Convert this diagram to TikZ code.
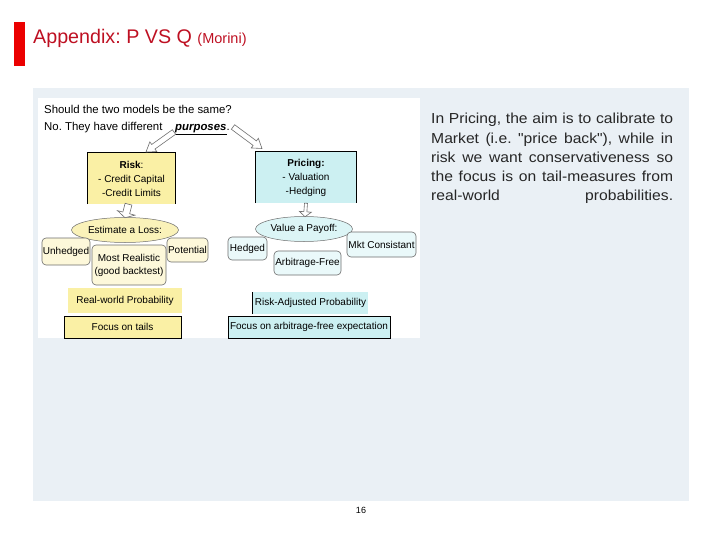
\documentclass[tikz,border=0pt]{standalone}
\usepackage{fontspec}
\setmainfont{Liberation Sans}
\newfontfamily\bodyfont{Liberation Sans}
\usetikzlibrary{calc,shapes.geometric}
\frenchspacing
\definecolor{titlered}{RGB}{190,16,34}
\definecolor{barred}{RGB}{235,0,0}
\definecolor{panel}{RGB}{234,240,245}
\definecolor{ryellow}{RGB}{250,240,165}
\definecolor{lyellow}{RGB}{253,248,218}
\definecolor{oyellow}{RGB}{250,242,185}
\definecolor{pcyan}{RGB}{204,240,242}
\definecolor{lcyan}{RGB}{234,249,250}
\definecolor{ocyan}{RGB}{220,245,246}
\definecolor{bgray}{RGB}{110,110,110}
\newcommand\blockarrow[5]{%
  \coordinate (bah) at ($(#2)!#5!(#1)$);
  \filldraw[blockarr] ($(#1)!#3!90:(#2)$) -- ($(bah)!#3!90:(#2)$) -- ($(bah)!#4!90:(#2)$) -- (#2)
    -- ($(bah)!#4!-90:(#2)$) -- ($(bah)!#3!-90:(#2)$) -- ($(#1)!#3!-90:(#2)$) -- cycle;}
\newcommand\bodyline[1]{\scalebox{1.08}[1]{\makebox[224pt][s]{#1}}}
\tikzset{
  qtxt/.style={anchor=base west, inner sep=0, font=\fontsize{11.4}{13}\selectfont},
  headbox/.style={inner sep=0, align=center, font=\fontsize{10}{14}\selectfont},
  oval/.style={ellipse, draw=bgray, line width=0.5pt, inner sep=0, font=\fontsize{10}{12}\selectfont},
  pill/.style={rounded corners=4pt, draw=bgray, line width=0.6pt, inner sep=0, align=center, font=\fontsize{10}{13}\selectfont},
  probbox/.style={inner sep=0, font=\fontsize{10}{12}\selectfont},
  focusbox/.style={draw=black, line width=0.8pt, inner sep=0, font=\fontsize{10}{12}\selectfont},
  blockarr/.style={draw=bgray, fill=white, line width=0.6pt, line join=miter},
  bodytxt/.style={anchor=base west, inner sep=0, font=\bodyfont\fontsize{14.5}{18}\selectfont, text=black!85}
}
\begin{document}
\begin{tikzpicture}[x=1pt,y=-1pt]
\useasboundingbox (0,0) rectangle (720,540);
% title
\fill[barred] (14,22) rectangle (25,66);
\node[anchor=base west, inner sep=0, text=titlered, font=\fontsize{19.7}{22}\selectfont] (title) at (33,43.5)
  {Appendix: P VS Q \fontsize{14.5}{16}\selectfont(Morini)};
% panel
\fill[panel] (33,88) rectangle (689,501);
\fill[white] (38,98) rectangle (420,338);
% questions
\node[qtxt] (q1) at (44,114) {Should the two models be the same?};
\node[qtxt] (q2) at (44,130.5) {No. They have different};
\node[qtxt] (purp) at (175,130.5) {\underline{\textbf{\textit{purposes}}}.};
% head boxes
\node[headbox, fill=ryellow, minimum width=87pt, minimum height=51pt] (risk) at (131.5,178.5)
  {\textbf{Risk}:\\- Credit Capital\\-Credit Limits};
\draw[black, line width=0.8pt] (risk.south west) -- (risk.north west) -- (risk.north east) -- (risk.south east);
\node[headbox, fill=pcyan, minimum width=100pt, minimum height=51pt] (pricing) at (306,177.5)
  {\textbf{Pricing:}\\- Valuation\\-Hedging};
\draw[black, line width=0.8pt] (pricing.south west) -- (pricing.north west) -- (pricing.north east) -- (pricing.south east);
% ellipses
\node[oval, fill=oyellow, minimum width=107pt, minimum height=25pt] (est) at (125,230) {Estimate a Loss:};
\node[oval, fill=ocyan, minimum width=97pt, minimum height=25pt] (val) at (304,229) {Value a Payoff:};
% pills left
\node[pill, fill=lyellow, minimum width=48pt, minimum height=27pt] (unh) at (66,251.5) {Unhedged};
\node[pill, fill=lyellow, minimum width=74pt, minimum height=40pt] (most) at (129,265) {Most Realistic\\(good backtest)};
\node[pill, fill=lyellow, minimum width=41pt, minimum height=24pt] (pot) at (187.5,250) {Potential};
% pills right
\node[pill, fill=lcyan, minimum width=39pt, minimum height=23pt] (hed) at (247.5,248.5) {Hedged};
\node[pill, fill=lcyan, minimum width=67pt, minimum height=24pt] (arb) at (307.5,263) {Arbitrage-Free};
\node[pill, fill=lcyan, minimum width=69pt, minimum height=25pt] (mkt) at (381.5,244.5) {Mkt Consistant};
% probability boxes
\node[probbox, fill=ryellow, minimum width=114pt, minimum height=25pt] (rw) at (125,300.5) {Real-world Probability};
\node[focusbox, fill=ryellow, minimum width=117pt, minimum height=22pt] (tails) at (122.5,327) {Focus on tails};
\node[probbox, fill=pcyan, minimum width=115pt, minimum height=22pt] (radj) at (310.5,303) {Risk-Adjusted Probability};
\draw[black, line width=0.8pt] (radj.south west) -- (radj.north west);
\node[focusbox, fill=pcyan, minimum width=162pt, minimum height=22pt] (farb) at (309,327) {Focus on arbitrage-free expectation};
% block arrows
\coordinate (a1s) at (174,132);
\coordinate (a1e) at (146,152);
\blockarrow{a1s}{a1e}{2.8pt}{6pt}{9pt}
\coordinate (a2s) at (233,127);
\coordinate (a2e) at (262,148.5);
\blockarrow{a2s}{a2e}{2.8pt}{6pt}{9pt}
\coordinate (a3s) at ($(risk.south)+(-3,0)$);
\coordinate (a3e) at ($(est.north)+(0,0.5)$);
\blockarrow{a3s}{a3e}{3.5pt}{9pt}{5pt}
\coordinate (a4s) at (pricing.south);
\coordinate (a4e) at ($(val.north)+(1,0.5)$);
\blockarrow{a4s}{a4e}{1.5pt}{6pt}{5pt}
% body text
\node[bodytxt] (l1) at (431,124) {\bodyline{In Pricing, the aim is to calibrate to}};
\node[bodytxt] (l2) at (431,143.2) {\bodyline{Market (i.e. "price back"), while in}};
\node[bodytxt] (l3) at (431,162.4) {\bodyline{risk we want conservativeness so}};
\node[bodytxt] (l4) at (431,181.6) {\bodyline{the focus is on tail-measures from}};
\node[bodytxt] (l5) at (431,200.8) {\bodyline{real-world probabilities.}};
% page number
\node[inner sep=0, font=\fontsize{9}{10}\selectfont] (pg) at (361,510) {16};
\end{tikzpicture}
\end{document}
